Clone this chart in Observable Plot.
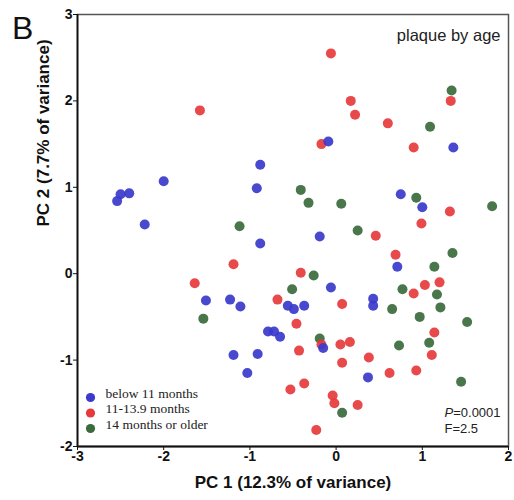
<!DOCTYPE html>
<html>
<head>
<meta charset="utf-8">
<script src="https://cdn.jsdelivr.net/npm/d3@7"></script>
<script src="https://cdn.jsdelivr.net/npm/@observablehq/plot@0.6"></script>
<style>
  body { margin: 0; background: #fff; }
  #wrap { position: relative; width: 514px; height: 500px; }
  #panel { position: absolute; left: 12px; top: 10px; font: 32px "Liberation Sans", Arial, sans-serif; color: #111; z-index: 2; }
</style>
</head>
<body>
<div id="wrap"><div id="panel">B</div></div>
<script>
const groups = ["below 11 months", "11-13.9 months", "14 months or older"];
const groupColors = ["#3a3acc", "#e6393c", "#3a6b3c"];
const xTicks = [-3, -2, -1, 0, 1, 2];
const yTicks = [-2, -1, 0, 1, 2, 3];
const xTitle = "PC 1 (12.3% of variance)";
const yTitle = "PC 2 (7.7% of variance)";
const panelTitle = "plaque by age";
const statP = "0.0001";
const statF = "2.5";

const blueX = [-0.88, -0.92, -2.0, -2.40, -2.50, -2.54, -2.22, -0.88, -0.09, 1.36, 0.75, 1.0, -0.19, 0.71, -0.06, 0.43, 0.43, -0.56, -0.49, -0.37, -0.65, -0.15, 0.37, -1.51, -1.23, -1.11, -0.79, -0.72, -1.19, -0.91, -1.03];
const blueY = [1.26, 0.99, 1.07, 0.93, 0.92, 0.84, 0.57, 0.35, 1.53, 1.46, 0.92, 0.77, 0.43, 0.08, -0.16, -0.29, -0.37, -0.37, -0.41, -0.37, -0.73, -0.86, -1.20, -0.31, -0.30, -0.38, -0.67, -0.67, -0.94, -0.93, -1.15];

const redX = [-1.58, -0.06, 1.33, 0.17, 0.22, 0.60, -0.17, 0.90, 1.32, 0.99, 0.46, 0.69, -0.41, 0.90, 1.03, 1.20, 0.07, -0.46, 1.14, -0.17, 0.05, 0.16, -0.43, 1.11, 0.38, 0.07, 0.62, 0.93, -0.37, -0.53, -0.04, -0.02, 0.25, -0.23, -1.19, -1.64, -0.68];
const redY = [1.89, 2.55, 2.0, 2.0, 1.84, 1.74, 1.50, 1.46, 0.72, 0.58, 0.44, 0.22, 0.01, -0.23, -0.13, -0.10, -0.35, -0.58, -0.68, -0.82, -0.82, -0.79, -0.89, -0.94, -0.97, -1.03, -1.15, -1.12, -1.27, -1.34, -1.41, -1.50, -1.52, -1.81, 0.11, -0.11, -0.30];

const greenX = [-1.12, 1.34, 1.09, -0.41, -0.32, 0.06, 0.93, 1.81, 0.25, 1.35, 1.14, -0.26, -0.51, 0.77, 1.17, 0.65, 1.21, 0.97, 1.52, -0.19, 0.73, 1.08, 1.45, 0.07, -1.54];
const greenY = [0.55, 2.12, 1.70, 0.97, 0.82, 0.81, 0.88, 0.78, 0.50, 0.24, 0.08, -0.02, -0.18, -0.18, -0.24, -0.41, -0.39, -0.50, -0.56, -0.75, -0.83, -0.80, -1.25, -1.61, -0.52];

const mk = (xs, ys, g) => xs.map((x, i) => ({x, y: ys[i], g}));
const points = [
  ...mk(greenX, greenY, groups[2]),
  ...mk(redX, redY, groups[1]),
  ...mk(blueX, blueY, groups[0])
];

const sans = "'Liberation Sans', Arial, sans-serif";
const serif = "'Liberation Serif', 'Times New Roman', serif";
const legendDy = [-49, -33.5, -18];

const chart = Plot.plot({
  width: 514,
  height: 500,
  marginLeft: 77,
  marginRight: 6,
  marginTop: 14,
  marginBottom: 54,
  style: { fontFamily: sans, background: "#fff", overflow: "visible" },
  x: { domain: [-3, 2], label: null },
  y: { domain: [-2, 3], label: null },
  color: { domain: groups, range: groupColors },
  marks: [
    Plot.frame({ stroke: "#555", strokeWidth: 1.5 }),
    Plot.axisX({ ticks: xTicks, tickFormat: d => String(d), tickSize: 4, tickPadding: 1, fontSize: 14, fontWeight: "bold", fill: "#111", stroke: "#111", label: null }),
    Plot.axisY({ ticks: yTicks, tickFormat: d => String(d), tickSize: 4, tickPadding: 1, fontSize: 14, fontWeight: "bold", fill: "#111", stroke: "#111", label: null }),
    Plot.ruleX([-3], { stroke: "#111", strokeWidth: 1.8 }),
    Plot.ruleY([-2], { stroke: "#111", strokeWidth: 1.8 }),
    Plot.dot(points, { x: "x", y: "y", fill: "g", r: 5, fillOpacity: 0.92 }),
    Plot.text([panelTitle], { frameAnchor: "top-right", dx: -8, dy: 15, fontSize: 16.5, fill: "#222" }),
    Plot.text([xTitle], { frameAnchor: "bottom", dy: 41, fontSize: 17, fontWeight: "bold", fill: "#111" }),
    Plot.text([yTitle], { frameAnchor: "left", dx: -34, dy: -4, rotate: -90, fontSize: 17, fontWeight: "bold", fill: "#111" }),
    Plot.text(["F=" + statF], { frameAnchor: "bottom-left", dx: 367, dy: -13.5, fontSize: 13, fill: "#222", textAnchor: "start" }),
    Plot.text(["=" + statP], { frameAnchor: "bottom-left", dx: 375.7, dy: -29.5, fontSize: 13, fill: "#222", textAnchor: "start" }),
    Plot.text(["P"], { frameAnchor: "bottom-left", dx: 367, dy: -29.5, fontSize: 13, fontStyle: "italic", fill: "#222", textAnchor: "start" }),
    ...groups.map((g, i) => Plot.dot([g], { frameAnchor: "bottom-left", dx: 13, dy: legendDy[i], fill: d => d, r: 4.6 })),
    ...groups.map((g, i) => Plot.text([g], { frameAnchor: "bottom-left", dx: 28, dy: legendDy[i], fontSize: 13.5, fontFamily: serif, fill: "#222", textAnchor: "start" }))
  ]
});

d3.select(chart).style("position", "absolute").style("left", "0").style("top", "0");
document.getElementById("wrap").prepend(chart);
</script>
</body>
</html>
